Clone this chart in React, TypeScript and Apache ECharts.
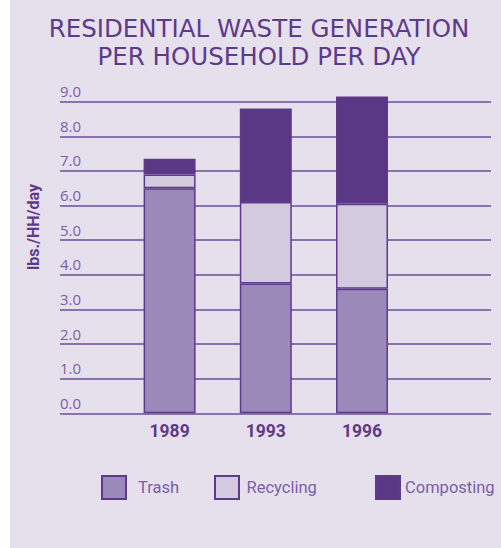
import React, { useEffect, useRef } from "react";
import * as echarts from "echarts";

const years = ["1989", "1993", "1996"];
const trash = [6.5, 3.75, 3.6];
const recycling = [0.4, 2.35, 2.45];
const composting = [0.45, 2.7, 3.1];
const yTicks = [0, 1, 2, 3, 4, 5, 6, 7, 8, 9];

const TITLE = "RESIDENTIAL WASTE GENERATION\nPER HOUSEHOLD PER DAY";
const Y_NAME = "lbs./HH/day";

const DARK = "#5E3A8A";
const TEXT = "#7A5FA8";
const NARROW = "Roboto, sans-serif";

export default function App() {
  const ref = useRef<HTMLDivElement>(null);
  useEffect(() => {
    if (!ref.current) return;
    const chart = echarts.init(ref.current, undefined, { renderer: "svg" });
    const top = 101.7;
    const bottom = 548 - 413.3;
    const border = { borderColor: DARK, borderWidth: 1.5 };
    const mkLegend = (name: string, left: number, gap: number) => ({
      data: [name],
      left,
      top: 475,
      padding: 0,
      itemWidth: 24,
      itemHeight: 23,
      icon: "rect",
      selectedMode: false,
      textStyle: { color: TEXT, fontSize: 16.5, fontFamily: NARROW, padding: [0, 0, 0, gap] },
    });
    chart.setOption({
      animation: false,
      backgroundColor: "transparent",
      title: {
        text: TITLE,
        left: 259,
        top: 14,
        padding: 0,
        textAlign: "center",
        textStyle: {
          color: DARK,
          fontSize: 24.5,
          fontWeight: "normal",
          fontFamily: "DejaVu Sans",
          lineHeight: 28,
          align: "center",
        },
      },
      graphic: [
        {
          type: "rect",
          z: -10,
          shape: { x: 10, y: 0, width: 491, height: 548 },
          style: { fill: "#E6E0ED" },
          silent: true,
        },
        {
          type: "text",
          x: 33,
          y: 227,
          rotation: Math.PI / 2,
          style: {
            text: Y_NAME,
            fill: DARK,
            fontSize: 16,
            fontWeight: "bold",
            fontFamily: NARROW,
            align: "center",
            verticalAlign: "middle",
          },
        },
      ],
      legend: [
        mkLegend("Trash", 101, 7),
        mkLegend("Recycling", 214, 2.5),
        mkLegend("Composting", 375, 0),
      ],
      grid: [
        { left: 60, right: 10, top, bottom },
        { left: 121.5, width: 288.6, top, bottom },
      ],
      yAxis: [
        {
          gridIndex: 0,
          type: "value",
          min: 0,
          max: 9,
          interval: 1,
          axisLine: { show: false },
          axisTick: { show: false },
          axisLabel: {
            inside: true,
            verticalAlign: "bottom",
            margin: 0,
            padding: [0, 0, 3, 0],
            color: TEXT,
            fontSize: 15,
            fontFamily: "Open Sans",
            formatter: (v: number) => (yTicks.includes(v) ? v.toFixed(1) : ""),
          },
          splitLine: { show: true, lineStyle: { color: "#6B4C9A", width: 1.5 } },
        },
        {
          gridIndex: 1,
          type: "value",
          min: 0,
          max: 9,
          interval: 1,
          show: false,
          splitLine: { show: false },
        },
      ],
      xAxis: [
        {
          gridIndex: 0,
          type: "value",
          min: 0,
          max: 1,
          show: false,
          splitLine: { show: false },
        },
        {
          gridIndex: 1,
          type: "category",
          data: years,
          axisLine: { show: false },
          axisTick: { show: false },
          axisLabel: {
            color: DARK,
            fontSize: 17.5,
            fontWeight: "bold",
            fontFamily: NARROW,
            margin: 9,
          },
        },
      ],
      series: [
        {
          name: "Trash",
          type: "bar",
          stack: "w",
          xAxisIndex: 1,
          yAxisIndex: 1,
          barWidth: 52,
          clip: false,
          data: trash,
          itemStyle: { color: "#9B89BA", ...border },
        },
        {
          name: "Recycling",
          type: "bar",
          stack: "w",
          xAxisIndex: 1,
          yAxisIndex: 1,
          barWidth: 52,
          clip: false,
          data: recycling,
          itemStyle: { color: "#D3CAE0", ...border },
        },
        {
          name: "Composting",
          type: "bar",
          stack: "w",
          xAxisIndex: 1,
          yAxisIndex: 1,
          barWidth: 52,
          clip: false,
          data: composting,
          itemStyle: { color: "#5B3886", ...border },
        },
      ],
    });
    return () => chart.dispose();
  }, []);
  return (
    <div
      ref={ref}
      style={{ position: "absolute", left: 0, top: 0, width: 501, height: 548 }}
    />
  );
}
